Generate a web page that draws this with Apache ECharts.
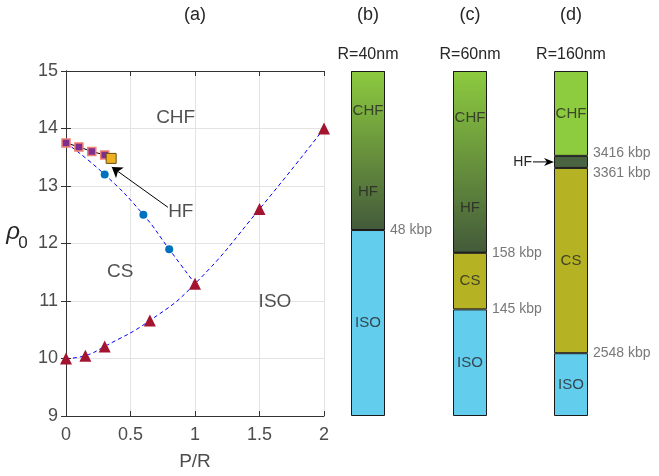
<!DOCTYPE html>
<html>
<head>
<meta charset="utf-8">
<script src="https://cdn.jsdelivr.net/npm/echarts@6/dist/echarts.min.js"></script>
<style>
html, body { margin: 0; padding: 0; background: #fff; }
#main { width: 659px; height: 476px; }
</style>
</head>
<body>
<div id="main"></div>
<script>
// ---- panel (a): rho_0 against P/R ----
var triangleX = [0, 0.15, 0.3, 0.65, 1, 1.5, 2];
var triangleY = [10.0, 10.05, 10.21, 10.66, 11.3, 12.6, 14.0];
var upperX = [0, 0.3, 0.6, 0.8, 1];
var upperY = [13.75, 13.2, 12.5, 11.9, 11.3];
var circleX = [0.3, 0.6, 0.8];
var circleY = [13.2, 12.5, 11.9];
var squareX = [0, 0.1, 0.2, 0.3];
var squareY = [13.75, 13.68, 13.6, 13.54];
var endSquareX = [0.35];
var endSquareY = [13.48];

// ---- panels (b)-(d): share of column height, bottom to top ----
var columnTitles = ['R=40nm', 'R=60nm', 'R=160nm'];
var phasesB = ['ISO', 'CHF/HF'];
var heightsB = [0.539, 0.461];
var kbpB = ['48 kbp'];
var phasesC = ['ISO', 'CS', 'CHF/HF'];
var heightsC = [0.309, 0.164, 0.527];
var kbpC = ['145 kbp', '158 kbp'];
var phasesD = ['ISO', 'CS', 'HF', 'CHF'];
var heightsD = [0.182, 0.537, 0.035, 0.246];
var kbpD = ['2548 kbp', '3361 kbp', '3416 kbp'];

function zip(xs, ys) {
  return xs.map(function (x, i) { return [x, ys[i]]; });
}

var FONT = 'Liberation Sans';
var phaseColor = {
  'ISO': '#63CDEE',
  'CS': '#B5B323',
  'HF': '#4A6340',
  'CHF': '#8DCB3F',
  'CHF/HF': new echarts.graphic.LinearGradient(0, 0, 0, 1, [
    { offset: 0, color: '#8DCB3F' },
    { offset: 1, color: '#435A3A' }
  ])
};

var chart = echarts.init(document.getElementById('main'));

var grids = [
  { left: 66, top: 71, width: 258, height: 345, outerBoundsMode: 'none' },
  { left: 351, top: 71, width: 34, height: 345, outerBoundsMode: 'none' },
  { left: 453, top: 71, width: 34, height: 345, outerBoundsMode: 'none' },
  { left: 554, top: 71, width: 34, height: 345, outerBoundsMode: 'none' }
];

var axisLine = { show: true, lineStyle: { color: '#333', width: 1 } };
var tickIn = { show: true, inside: true, length: 5, lineStyle: { color: '#333' } };
var tickLabel = { color: '#4d4d4d', fontSize: 18, fontFamily: FONT };
var dash = [4, 3];

var xAxes = [
  { type: 'value', gridIndex: 0, min: 0, max: 2, interval: 0.5,
    axisLine: axisLine, axisTick: tickIn, axisLabel: Object.assign({ margin: 10 }, tickLabel),
    splitLine: { show: true, lineStyle: { color: '#e3e3e3' } },
    name: 'P/R', nameLocation: 'middle', nameGap: 36,
    nameTextStyle: { color: '#4d4d4d', fontSize: 19, fontFamily: FONT } },
  { type: 'value', gridIndex: 0, min: 0, max: 2, interval: 0.5, position: 'top',
    axisLine: axisLine, axisTick: tickIn, axisLabel: { show: false }, splitLine: { show: false } }
];
var yAxes = [
  { type: 'value', gridIndex: 0, min: 9, max: 15, interval: 1,
    axisLine: axisLine, axisTick: tickIn, axisLabel: Object.assign({ margin: 8 }, tickLabel),
    splitLine: { show: true, lineStyle: { color: '#e3e3e3' } } },
  { type: 'value', gridIndex: 0, min: 9, max: 15, interval: 1, position: 'right',
    axisLine: axisLine, axisTick: tickIn, axisLabel: { show: false }, splitLine: { show: false } }
];

var series = [
  // lower boundary (dashed fit through triangles)
  { type: 'line', xAxisIndex: 0, yAxisIndex: 0, data: zip(triangleX, triangleY), smooth: true,
    symbol: 'none', lineStyle: { color: '#0000ff', type: dash, width: 1 }, z: 2 },
  // upper-left boundary (dashed through circles)
  { type: 'line', xAxisIndex: 0, yAxisIndex: 0, data: zip(upperX, upperY), smooth: true,
    symbol: 'none', lineStyle: { color: '#0000ff', type: dash, width: 1 }, z: 2 },
  { type: 'scatter', xAxisIndex: 0, yAxisIndex: 0, data: zip(circleX, circleY),
    symbol: 'circle', symbolSize: 8, itemStyle: { color: '#0072BD', opacity: 1 }, z: 3 },
  { type: 'scatter', xAxisIndex: 0, yAxisIndex: 0, data: zip(triangleX, triangleY),
    symbol: 'triangle', symbolSize: 12, itemStyle: { color: '#A2142F', opacity: 1 }, z: 4 },
  { type: 'line', xAxisIndex: 0, yAxisIndex: 0, data: zip(squareX, squareY),
    symbol: 'rect', symbolSize: 8, showAllSymbol: true,
    lineStyle: { color: '#000', width: 1 },
    itemStyle: { color: '#7E2F8E', borderColor: '#F08070', borderWidth: 1.5, opacity: 1 }, z: 4 },
  { type: 'scatter', xAxisIndex: 0, yAxisIndex: 0, data: zip(endSquareX, endSquareY),
    symbol: 'rect', symbolSize: 10, itemStyle: { color: '#EDB120', borderColor: '#6b4f10', borderWidth: 1, opacity: 1 }, z: 5 },
  // region labels and HF arrow
  { type: 'scatter', xAxisIndex: 0, yAxisIndex: 0, symbolSize: 0, silent: true, z: 6,
    data: [
      { name: 'CHF', value: [0.85, 14.18] },
      { name: 'HF', value: [0.89, 12.55] },
      { name: 'CS', value: [0.42, 11.5] },
      { name: 'ISO', value: [1.62, 10.98] }
    ],
    label: { show: true, position: 'inside', formatter: '{b}', color: '#262626', fontSize: 19, fontFamily: FONT },
    markLine: {
      silent: true, symbol: ['none', 'arrow'], symbolSize: 10,
      lineStyle: { color: '#000', type: 'solid', width: 1 }, label: { show: false },
      data: [[{ coord: [0.79, 12.63] }, { coord: [0.355, 13.33] }]]
    } }
];

var columns = [
  { phases: phasesB, heights: heightsB, kbp: kbpB,
    labels: [['CHF', 0.884], ['HF', 0.649], ['ISO', 0.27]] },
  { phases: phasesC, heights: heightsC, kbp: kbpC,
    labels: [['CHF', 0.864], ['HF', 0.603], ['CS', 0.391], ['ISO', 0.154]] },
  { phases: phasesD, heights: heightsD, kbp: kbpD,
    labels: [['CHF', 0.877], ['CS', 0.45], ['ISO', 0.091]] }
];
var kbpOffsetsD = [[0, 0], [0, 5], [0, -3]];

columns.forEach(function (col, p) {
  var ax = p + 2;
  xAxes.push({ type: 'category', gridIndex: p + 1, data: [columnTitles[p]], show: false });
  yAxes.push({ type: 'value', gridIndex: p + 1, min: 0, max: 1, show: false });
  col.phases.forEach(function (ph, i) {
    series.push({ type: 'bar', xAxisIndex: ax, yAxisIndex: ax, stack: 'col' + p, barWidth: '100%',
      data: [col.heights[i]], silent: true,
      itemStyle: { color: phaseColor[ph], borderColor: '#1a1a1a', borderWidth: 1 } });
  });
  // phase names inside the column
  series.push({ type: 'scatter', xAxisIndex: ax, yAxisIndex: ax, symbolSize: 0, silent: true, z: 5,
    data: col.labels.map(function (l) { return { name: l[0], value: [0, l[1]] }; }),
    label: { show: true, position: 'inside', formatter: '{b}', color: '#262626', fontSize: 15, fontFamily: FONT } });
  // boundary sizes to the right of the column
  var acc = 0;
  var marks = col.kbp.map(function (t, i) {
    acc += col.heights[i];
    var item = { name: t, value: [0, acc] };
    if (p === 2) item.label = { offset: kbpOffsetsD[i] };
    return item;
  });
  series.push({ type: 'scatter', xAxisIndex: ax, yAxisIndex: ax, symbolSize: 0, silent: true, z: 5,
    data: marks,
    label: { show: true, position: 'right', distance: 22, formatter: '{b}', color: '#555', fontSize: 14, fontFamily: FONT } });
});

chart.setOption({
  animation: false,
  backgroundColor: '#fff',
  grid: grids,
  xAxis: xAxes,
  yAxis: yAxes,
  series: series
});

// panel captions, rho_0 label and the HF pointer of panel (d)
var graphics = [];
function centerText(t, cx, cy, size, color, italic) {
  graphics.push({ type: 'text', x: cx, y: cy,
    style: { text: t, fill: color || '#262626', fontSize: size, fontFamily: FONT, fontStyle: italic ? 'italic' : 'normal',
      align: 'center', verticalAlign: 'middle' } });
}
centerText('(a)', 195, 15, 18);
centerText('(b)', 368, 15, 18);
centerText('(c)', 470, 15, 18);
centerText('(d)', 571, 15, 18);
columnTitles.forEach(function (t, p) {
  var c = chart.convertToPixel({ xAxisIndex: p + 2, yAxisIndex: p + 2 }, [0, 1]);
  centerText(t, c[0], 55, 16);
});
centerText('\u03c1', 13, 232, 24, '#262626', true);
centerText('0', 23, 243, 17);

var hfMid = heightsD[0] + heightsD[1] + heightsD[2] / 2;
var hp = chart.convertToPixel({ xAxisIndex: 4, yAxisIndex: 4 }, [0, hfMid]);
var barLeft = hp[0] - 17;
graphics.push({ type: 'text', x: barLeft - 22, y: hp[1],
  style: { text: 'HF', fill: '#262626', fontSize: 14, fontFamily: FONT, align: 'right', verticalAlign: 'middle' } });
graphics.push({ type: 'line', shape: { x1: barLeft - 21, y1: hp[1], x2: barLeft - 6, y2: hp[1] },
  style: { stroke: '#000', lineWidth: 1 } });
graphics.push({ type: 'polygon',
  shape: { points: [[barLeft, hp[1]], [barLeft - 10, hp[1] - 4], [barLeft - 7, hp[1]], [barLeft - 10, hp[1] + 4]] },
  style: { fill: '#000' } });

chart.setOption({ graphic: graphics });
</script>
</body>
</html>
